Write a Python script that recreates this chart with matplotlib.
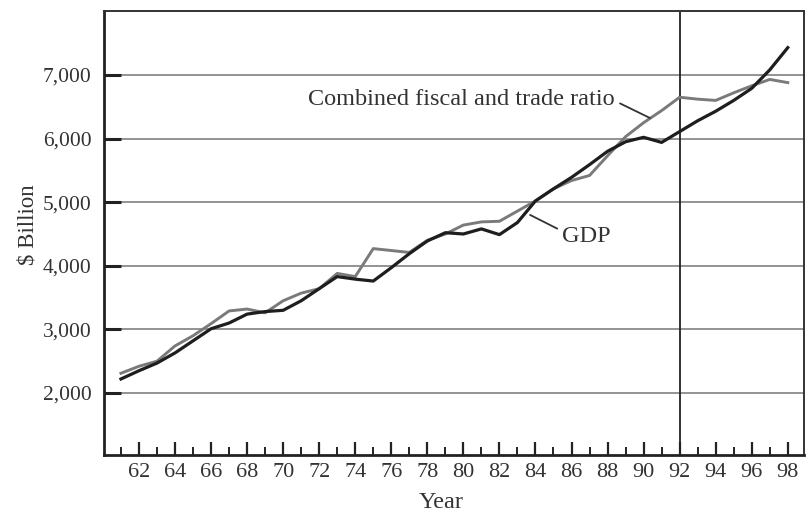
import matplotlib
matplotlib.use("Agg")
import matplotlib.pyplot as plt
import numpy as np

years = list(range(61, 99))
gdp = [2220, 2350, 2470, 2630, 2820, 3010, 3100, 3240, 3280, 3300,
       3450, 3640, 3830, 3790, 3760, 3970, 4190, 4390, 4520, 4500,
       4580, 4490, 4680, 5020, 5210, 5390, 5590, 5800, 5950, 6020,
       5940, 6110, 6280, 6430, 6600, 6790, 7080, 7430]
combined = [2310, 2420, 2500, 2740, 2900, 3090, 3290, 3320, 3260, 3450,
            3570, 3640, 3880, 3830, 4270, 4240, 4210, 4400, 4500, 4640,
            4690, 4700, 4860, 5020, 5210, 5340, 5420, 5730, 6030, 6250,
            6440, 6650, 6620, 6600, 6720, 6830, 6930, 6880]
ytick_vals = [2000, 3000, 4000, 5000, 6000, 7000]
xtick_labels = [62, 64, 66, 68, 70, 72, 74, 76, 78, 80, 82, 84, 86, 88, 90, 92, 94, 96, 98]

plt.rcParams['font.family'] = ['Liberation Serif', 'DejaVu Serif']

fig = plt.figure(figsize=(8.09, 5.14), dpi=100)
ax = fig.add_axes([104/809, 1 - 455/514, 700/809, 444/514])

for y in ytick_vals:
    ax.axhline(y, color='#8a8a8a', lw=1.3, zorder=1)
ax.axvline(92, color='#222222', lw=1.3, zorder=2)

ax.plot(years, combined, color='#7a7a7a', lw=2.1, zorder=3)
ax.plot(years, gdp, color='#1e1e1e', lw=2.3, zorder=4)

ax.set_xlim(60.06, 98.9)
ax.set_ylim(1025, 8006)

ax.set_yticks(ytick_vals)
ax.set_yticklabels([f"{v:,}" for v in ytick_vals])
ax.tick_params(axis='y', direction='in', length=12, width=2.2, color='#222222',
               labelsize=15.5, pad=9, labelcolor='#333333')

ax.set_xticks(xtick_labels)
ax.set_xticklabels([str(v) for v in xtick_labels])
ax.set_xticks([y for y in years if y % 2 == 1], minor=True)
ax.tick_params(axis='x', which='major', direction='in', length=9.5, width=1.6,
               color='#222222', labelsize=16, pad=6, labelcolor='#333333')
ax.tick_params(axis='x', which='minor', direction='in', length=6, width=1.4,
               color='#222222')

for side in ['left', 'bottom']:
    ax.spines[side].set_linewidth(2)
    ax.spines[side].set_color('#222222')
for side in ['top', 'right']:
    ax.spines[side].set_linewidth(1.4)
    ax.spines[side].set_color('#333333')

ax.set_ylabel(r"\$ Billion", fontsize=16.5, color='#333333')
ax.yaxis.set_label_coords(-0.094, 0.518)
ax.set_xlabel("Year", fontsize=17.5, color='#333333')
ax.xaxis.set_label_coords((441 - 104) / 700, -0.083)

ax.annotate("Combined fiscal and trade ratio", xy=(90.35, 6324), xytext=(88.4, 6610),
            fontsize=17.5, color='#333333', ha='right', va='center',
            arrowprops=dict(arrowstyle='-', color='#333333', lw=1.3,
                            relpos=(1.0, 0.45), shrinkA=2, shrinkB=0))
ax.annotate("GDP", xy=(83.7, 4800), xytext=(85.5, 4460),
            fontsize=17.5, color='#333333', ha='left', va='center',
            arrowprops=dict(arrowstyle='-', color='#333333', lw=1.3,
                            relpos=(0.0, 0.75), shrinkA=2, shrinkB=0))

fig.savefig("out.png", dpi=100)
